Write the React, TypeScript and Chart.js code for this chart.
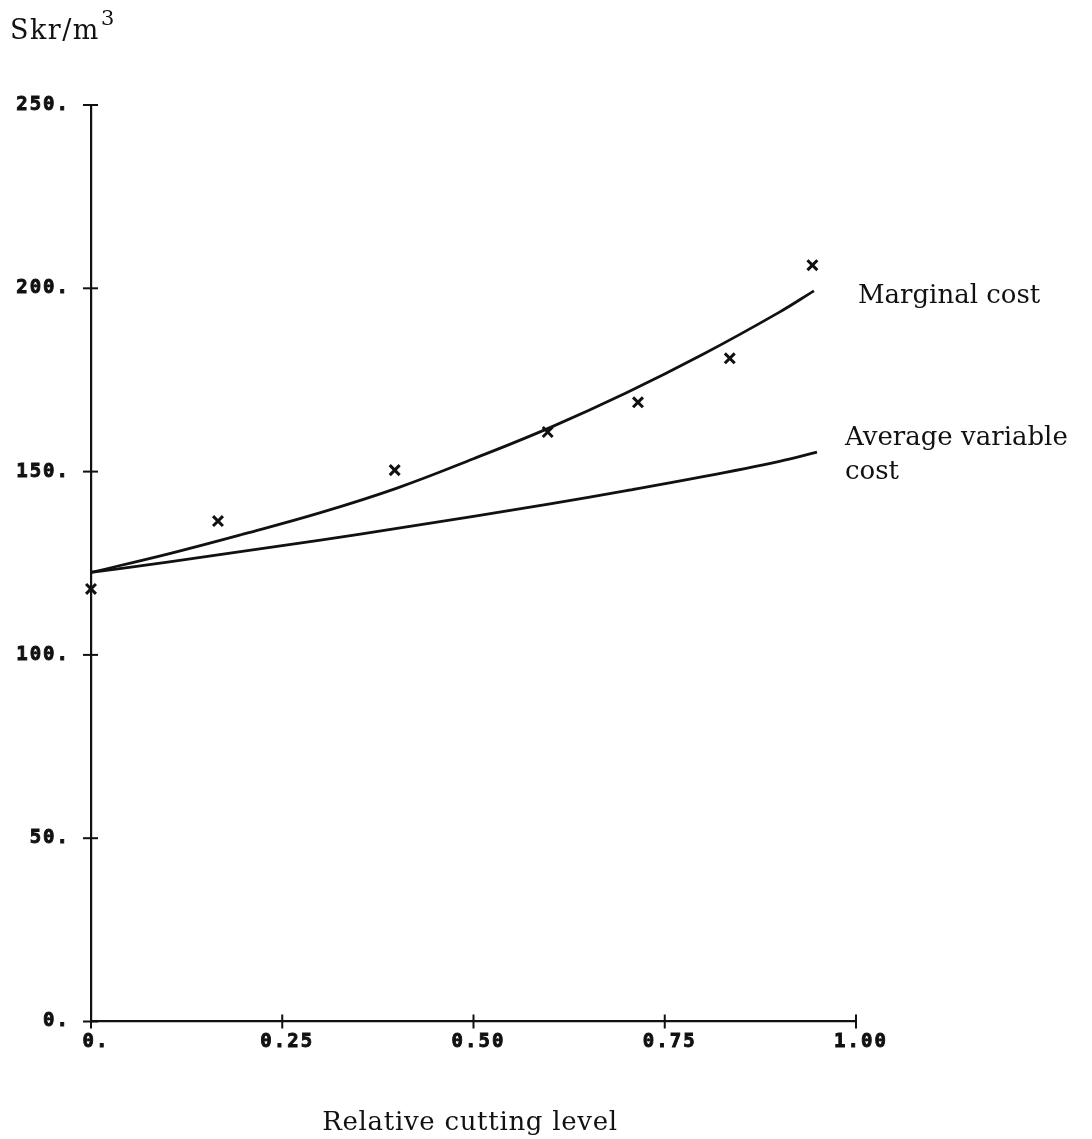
import React, { useEffect, useRef } from "react";
import { Chart, registerables } from "chart.js";

Chart.register(...registerables);

// Axis ticks
const xTicks = [0, 0.25, 0.5, 0.75, 1.0];
const xTickLabels = ["0.", "0.25", "0.50", "0.75", "1.00"];
const yTicks = [0, 50, 100, 150, 200, 250];
const yTickLabels = ["0.", "50.", "100.", "150.", "200.", "250."];

// Marginal cost curve
const mcX = [0, 0.1, 0.2, 0.3, 0.4, 0.5, 0.6, 0.7, 0.8, 0.9, 0.945];
const mcY = [122.5, 127.5, 133, 138.8, 145.5, 153.5, 162, 171.5, 182, 193.5, 199.3];

// Average variable cost curve
const avcX = [0, 0.1, 0.2, 0.3, 0.4, 0.5, 0.6, 0.7, 0.8, 0.9, 0.949];
const avcY = [122.5, 125.3, 128.3, 131.3, 134.5, 137.8, 141.2, 144.8, 148.6, 152.8, 155.3];

// Observed points (x markers)
const obsX = [0, 0.166, 0.397, 0.597, 0.715, 0.835, 0.943];
const obsY = [118, 136.5, 150.4, 160.8, 168.9, 180.9, 206.3];

const W = 1092;
const H = 1139;

const labelsPlugin = {
  id: "customLabels",
  afterDraw(chart: any) {
    const ctx = chart.ctx as CanvasRenderingContext2D;
    const xs = chart.scales.x;
    const ys = chart.scales.y;
    const area = chart.chartArea;
    ctx.save();
    ctx.strokeStyle = "#111";
    ctx.fillStyle = "#111";
    ctx.lineWidth = 2;
    // tick marks crossing axes
    yTicks.forEach((v) => {
      const py = ys.getPixelForValue(v);
      ctx.beginPath();
      ctx.moveTo(area.left - 8, py);
      ctx.lineTo(area.left + 7, py);
      ctx.stroke();
    });
    xTicks.forEach((v) => {
      const px = xs.getPixelForValue(v);
      ctx.beginPath();
      ctx.moveTo(px, area.bottom - 7);
      ctx.lineTo(px, area.bottom + 7);
      ctx.stroke();
    });
    // tick labels
    ctx.font = "bold 19px 'DejaVu Sans Mono'";
    (ctx as any).letterSpacing = "2px";
    ctx.lineWidth = 0.9;
    ctx.textBaseline = "middle";
    ctx.textAlign = "right";
    yTicks.forEach((v, i) => {
      const py = ys.getPixelForValue(v);
      ctx.fillText(yTickLabels[i], area.left - 21, py);
      ctx.strokeText(yTickLabels[i], area.left - 21, py);
    });
    ctx.textAlign = "center";
    xTicks.forEach((v, i) => {
      const px = xs.getPixelForValue(v) + 5;
      ctx.fillText(xTickLabels[i], px, area.bottom + 21);
      ctx.strokeText(xTickLabels[i], px, area.bottom + 21);
    });
    // texts
    ctx.textBaseline = "alphabetic";
    ctx.textAlign = "left";
    ctx.font = "27px 'DejaVu Serif'";
    (ctx as any).letterSpacing = "1.5px";
    ctx.fillText("Skr/m", 10, 39);
    const w = ctx.measureText("Skr/m").width;
    ctx.font = "21px 'DejaVu Serif'";
    (ctx as any).letterSpacing = "0px";
    ctx.fillText("3", 10 + w + 1, 25);
    ctx.font = "26px 'DejaVu Serif'";
    const mcEndX = xs.getPixelForValue(mcX[mcX.length - 1]);
    const mcEndY = ys.getPixelForValue(mcY[mcY.length - 1]);
    ctx.fillText("Marginal cost", mcEndX + 44, mcEndY + 12);
    const avEndX = xs.getPixelForValue(avcX[avcX.length - 1]);
    const avEndY = ys.getPixelForValue(avcY[avcY.length - 1]);
    ctx.fillText("Average variable", avEndX + 28, avEndY - 7);
    ctx.fillText("cost", avEndX + 28, avEndY + 27);
    ctx.textAlign = "center";
    (ctx as any).letterSpacing = "0.7px";
    ctx.fillText("Relative cutting level", 470, 1130);
    ctx.restore();
  },
};

export default function App() {
  const ref = useRef<HTMLCanvasElement | null>(null);
  useEffect(() => {
    if (!ref.current) return;
    const chart = new Chart(ref.current, {
      type: "line",
      data: {
        datasets: [
          {
            label: "Marginal cost",
            data: mcX.map((x, i) => ({ x, y: mcY[i] })),
            borderColor: "#111",
            borderWidth: 2.8,
            pointRadius: 0,
            tension: 0.4,
            fill: false,
          },
          {
            label: "Average variable cost",
            data: avcX.map((x, i) => ({ x, y: avcY[i] })),
            borderColor: "#111",
            borderWidth: 2.8,
            pointRadius: 0,
            tension: 0.4,
            fill: false,
          },
          {
            label: "Observed",
            data: obsX.map((x, i) => ({ x, y: obsY[i] })),
            showLine: false,
            clip: false,
            pointStyle: "crossRot",
            pointRadius: 7,
            pointBorderWidth: 3,
            pointBorderColor: "#111",
            pointBackgroundColor: "#111",
          },
        ],
      },
      options: {
        responsive: false,
        animation: false,
        layout: { padding: { left: 0, top: 105, right: 236, bottom: 0 } },
        plugins: {
          legend: { display: false },
          tooltip: { enabled: false },
          title: { display: false },
        },
        scales: {
          x: {
            type: "linear",
            min: 0,
            max: 1,
            ticks: { display: false },
            grid: { display: false },
            border: { display: true, color: "#111", width: 2.2 },
            afterFit: (s: any) => {
              s.height = 117.5;
            },
          },
          y: {
            type: "linear",
            min: 0,
            max: 250,
            ticks: { display: false },
            grid: { display: false },
            border: { display: true, color: "#111", width: 2.2 },
            afterFit: (s: any) => {
              s.width = 91;
            },
          },
        },
      },
      plugins: [labelsPlugin],
    });
    return () => chart.destroy();
  }, []);
  return (
    <div style={{ position: "absolute", left: 0, top: 0, width: W, height: H, background: "#fff" }}>
      <canvas ref={ref} width={W} height={H} style={{ display: "block" }} />
    </div>
  );
}
